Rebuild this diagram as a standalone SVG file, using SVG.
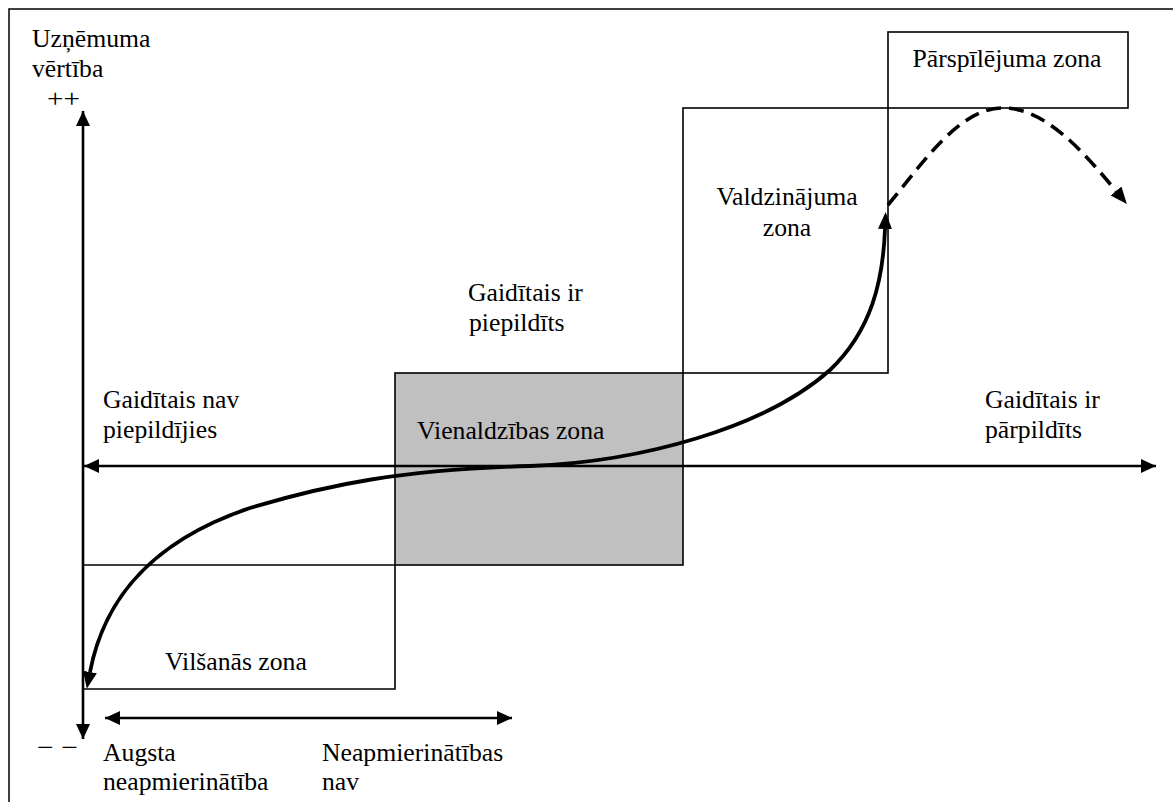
<svg xmlns="http://www.w3.org/2000/svg" width="1173" height="802" viewBox="0 0 1173 802">
  <style>
    text { font-family: "Liberation Serif", "Times New Roman", serif; font-size: 25.7px; fill: #000; }
    .mid { text-anchor: middle; }
    .zone { fill: none; stroke: #000; stroke-width: 1.6; }
    .gray { fill: #c0c0c0; stroke: #000; stroke-width: 1.6; }
    .axis { fill: none; stroke: #000; stroke-width: 2.6; }
    .curve { fill: none; stroke: #000; stroke-width: 3.8; }
    .dash { fill: none; stroke: #000; stroke-width: 3.6; stroke-dasharray: 15 8; }
  </style>
  <defs>
    <marker id="axisHead" markerUnits="userSpaceOnUse" markerWidth="16" markerHeight="16" refX="15" refY="7" orient="auto-start-reverse">
      <path d="M0,0 L15,7 L0,14 z" fill="#000"/>
    </marker>
    <marker id="curveHead" markerUnits="userSpaceOnUse" markerWidth="20" markerHeight="16" refX="0" refY="7" orient="auto-start-reverse">
      <path d="M0,0 L17,7 L0,14 z" fill="#000"/>
    </marker>
  </defs>

  <!-- frame -->
  <path d="M9,802 V9 H1173" fill="none" stroke="#000" stroke-width="1.5"/>

  <!-- zone outlines -->
  <g id="zone-vilsanas">
    <path class="zone" d="M83,565 H395 V689 H83"/>
    <text x="165" y="670">Vilšanās zona</text>
  </g>
  <g id="zone-vienaldzibas">
    <rect class="gray" x="395" y="373" width="288" height="192"/>
    <text x="417" y="439">Vienaldzības zona</text>
  </g>
  <g id="zone-valdzinajuma">
    <rect class="zone" x="683" y="108" width="205" height="265"/>
    <text class="mid" x="787" y="205">Valdzinājuma</text>
    <text class="mid" x="787" y="236">zona</text>
  </g>
  <g id="zone-parspilejuma">
    <rect class="zone" x="888" y="32" width="240" height="76"/>
    <text class="mid" x="1007" y="67">Pārspīlējuma zona</text>
  </g>

  <!-- axis and free labels -->
  <g id="label-value">
    <text x="32" y="47">Uzņēmuma</text>
    <text x="32" y="77">vērtība</text>
    <text x="47" y="107" textLength="33" lengthAdjust="spacingAndGlyphs">++</text>
    <text x="37" y="756" textLength="41" lengthAdjust="spacingAndGlyphs">− −</text>
  </g>
  <g id="label-not-met">
    <text x="103" y="408">Gaidītais nav</text>
    <text x="103" y="438">piepildījies</text>
  </g>
  <g id="label-met">
    <text x="468" y="301">Gaidītais ir</text>
    <text x="469" y="331">piepildīts</text>
  </g>
  <g id="label-exceeded">
    <text x="985" y="408">Gaidītais ir</text>
    <text x="985" y="438">pārpildīts</text>
  </g>
  <g id="label-high">
    <text x="103" y="761">Augsta</text>
    <text x="103" y="790">neapmierinātība</text>
  </g>
  <g id="label-none">
    <text x="322" y="761">Neapmierinātības</text>
    <text x="322" y="790">nav</text>
  </g>

  <!-- connectors -->
  <g id="connectors">
    <line class="axis" x1="83" y1="111" x2="83" y2="739" marker-start="url(#axisHead)" marker-end="url(#axisHead)"/>
    <line class="axis" x1="84" y1="466" x2="1156" y2="466" marker-start="url(#axisHead)" marker-end="url(#axisHead)"/>
    <line class="axis" x1="105" y1="718" x2="512" y2="718" marker-start="url(#axisHead)" marker-end="url(#axisHead)"/>
    <path class="curve" d="M90,672 C102,610 140,545 250,508 C330,484 400,470 530,466 C640,462 765,428 830,370 C872,330 883,280 885,229" marker-start="url(#curveHead)" marker-end="url(#curveHead)"/>
    <path class="dash" d="M888,205 C925,160 960,108 1003,108 C1045,108 1082,150 1116,191" marker-end="url(#curveHead)"/>
  </g>
</svg>
